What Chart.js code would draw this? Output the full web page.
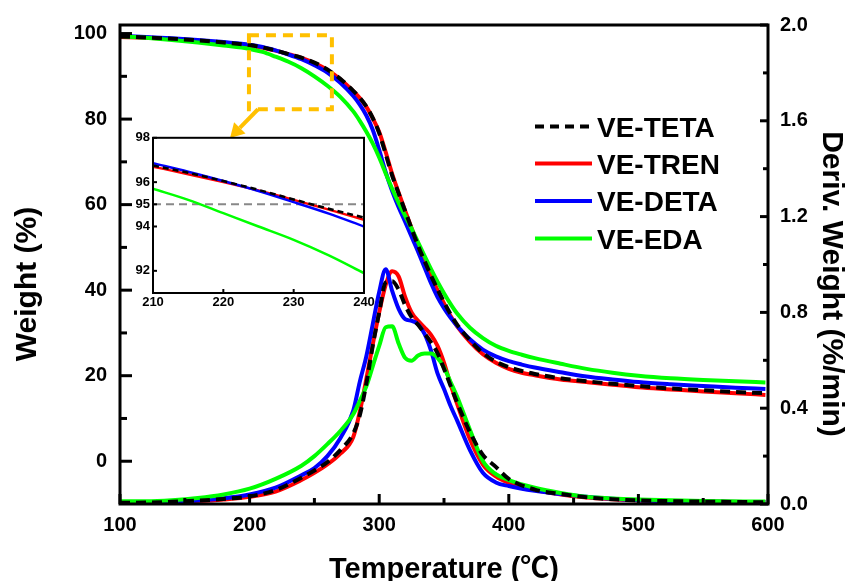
<!DOCTYPE html>
<html>
<head>
<meta charset="utf-8">
<title>VE TGA / DTG</title>
<script src="https://cdn.jsdelivr.net/npm/chart.js@4.4.1/dist/chart.umd.min.js"></script>
<style>
  body { margin: 0; background: #fff; }
  #wrap { position: relative; width: 851px; height: 581px; background: #fff; }
  #mainChart { position: absolute; left: 0; top: 0; }
  #insetChart { position: absolute; left: 113px; top: 127px; }
</style>
</head>
<body>
<div id="wrap">
  <canvas id="mainChart" width="851" height="581"></canvas>
  <canvas id="insetChart" width="264" height="190"></canvas>
</div>
<script>
// series
const seriesNames = ['VE-TETA', 'VE-TREN', 'VE-DETA', 'VE-EDA'];
const seriesColors = ['#000000', '#ff0000', '#0000ff', '#00ff00'];

// weight curves (left axis)
const tgaTemp = [100, 120, 140, 160, 180, 200, 210, 220, 230, 240, 250, 260, 270, 280, 285, 290, 295, 300, 305, 310, 315, 320, 325, 330, 335, 340, 345, 350, 355, 360, 370, 380, 390, 400, 410, 420, 440, 460, 480, 500, 525, 550, 575, 598];
const tgaTeta = [99.3, 99.1, 98.8, 98.4, 97.9, 97.3, 96.75, 96.05, 95.2, 94.35, 93.2, 91.6, 89.4, 86.6, 85.0, 83.0, 80.3, 76.7, 71.8, 66.8, 62.6, 58.5, 54.4, 50.4, 46.8, 43.4, 40.2, 37.2, 34.4, 32.0, 28.3, 25.3, 23.3, 22.0, 21.1, 20.4, 19.4, 18.7, 18.1, 17.6, 17.0, 16.6, 16.2, 15.9];
const tgaTren = [99.2, 99.0, 98.7, 98.3, 97.8, 97.2, 96.7, 96.0, 95.2, 94.3, 93.1, 91.5, 89.3, 86.5, 84.9, 82.9, 80.2, 77.0, 72.3, 67.2, 62.8, 58.6, 54.5, 50.5, 46.8, 43.3, 40.0, 36.9, 34.0, 31.6, 27.9, 25.0, 23.0, 21.6, 20.7, 20.1, 19.1, 18.5, 17.9, 17.3, 16.8, 16.3, 15.9, 15.5];
const tgaDeta = [99.5, 99.2, 98.9, 98.5, 98.0, 97.4, 96.85, 96.05, 95.1, 94.0, 92.6, 90.9, 88.5, 85.4, 83.4, 80.9, 77.5, 72.8, 67.6, 63.2, 59.4, 56.0, 52.5, 49.0, 45.3, 41.6, 38.4, 35.8, 33.6, 31.7, 28.5, 26.1, 24.5, 23.4, 22.6, 21.9, 20.8, 19.8, 19.1, 18.5, 18.0, 17.6, 17.2, 16.9];
const tgaEda = [99.4, 99.0, 98.5, 97.9, 97.2, 96.4, 95.7, 94.6, 93.4, 91.9, 90.0, 87.8, 85.2, 81.8, 79.6, 77.1, 74.3, 71.0, 67.3, 63.7, 60.4, 57.4, 54.4, 51.2, 48.0, 44.9, 42.0, 39.3, 36.8, 34.6, 31.2, 28.8, 27.0, 25.8, 24.9, 24.1, 22.8, 21.6, 20.7, 20.0, 19.4, 19.0, 18.7, 18.4];

// derivative curves (right axis)
const dtgTemp = [100, 120, 140, 160, 180, 200, 220, 240, 250, 260, 270, 280, 285, 290, 295, 300, 305, 310, 315, 320, 325, 330, 335, 340, 345, 350, 355, 360, 370, 380, 390, 400, 420, 440, 460, 480, 500, 550, 598];
const dtgTeta = [0.005, 0.006, 0.009, 0.014, 0.021, 0.032, 0.058, 0.11, 0.14, 0.175, 0.225, 0.295, 0.37, 0.5, 0.66, 0.8, 0.925, 0.93, 0.895, 0.83, 0.78, 0.748, 0.712, 0.675, 0.63, 0.565, 0.495, 0.425, 0.3, 0.205, 0.155, 0.105, 0.06, 0.042, 0.028, 0.02, 0.015, 0.01, 0.007];
const dtgTren = [0.004, 0.005, 0.008, 0.012, 0.019, 0.03, 0.052, 0.1, 0.13, 0.165, 0.21, 0.28, 0.385, 0.52, 0.665, 0.8, 0.915, 0.972, 0.95, 0.865, 0.8, 0.765, 0.737, 0.706, 0.66, 0.59, 0.5, 0.42, 0.27, 0.165, 0.115, 0.088, 0.058, 0.04, 0.027, 0.02, 0.015, 0.01, 0.007];
const dtgDeta = [0.005, 0.006, 0.009, 0.015, 0.024, 0.04, 0.068, 0.12, 0.15, 0.2, 0.275, 0.39, 0.51, 0.615, 0.75, 0.885, 0.98, 0.89, 0.815, 0.772, 0.765, 0.75, 0.71, 0.64, 0.545, 0.48, 0.41, 0.35, 0.225, 0.13, 0.09, 0.075, 0.055, 0.042, 0.03, 0.022, 0.016, 0.01, 0.008];
const dtgEda = [0.012, 0.012, 0.016, 0.025, 0.04, 0.064, 0.105, 0.16, 0.2, 0.25, 0.305, 0.375, 0.43, 0.49, 0.575, 0.66, 0.738, 0.742, 0.67, 0.61, 0.598, 0.62, 0.628, 0.628, 0.61, 0.57, 0.51, 0.45, 0.31, 0.18, 0.125, 0.1, 0.068, 0.046, 0.03, 0.023, 0.019, 0.013, 0.01];

// inset (210-240 C zoom)
const insetTemp = [210, 215, 220, 225, 230, 235, 240];
const insetTeta = [96.75, 96.42, 96.05, 95.65, 95.22, 94.8, 94.4];
const insetTren = [96.7, 96.36, 96.0, 95.62, 95.2, 94.76, 94.3];
const insetDeta = [96.85, 96.47, 96.05, 95.6, 95.1, 94.58, 94.0];
const insetEda = [95.7, 95.2, 94.6, 94.0, 93.4, 92.7, 91.9];
const insetRefTemp = [210, 240];
const insetRefWeight = [95, 95];

// ticks
const tempTicks = [100, 200, 300, 400, 500, 600];
const tempMinor = [150, 250, 350, 450, 550];
const weightTicks = [0, 20, 40, 60, 80, 100];
const weightMinor = [10, 30, 50, 70, 90];
const derivTicks = [0, 0.4, 0.8, 1.2, 1.6, 2.0];
const derivMinor = [0.2, 0.6, 1.0, 1.4, 1.8];
const insetTempTicks = [210, 220, 230, 240];
const insetWeightTicks = [92, 94, 95, 96, 98];

// zoomed region marker (data units of the main chart)
const zoomBoxTemp = [199.5, 263.5];
const zoomBoxWeight = [82.3, 99.6];
const arrowFrom = { x: 206.5, y: 82.3 };
const arrowTo = { x: 184.9, y: 75.6 };

const FONT = "'Liberation Sans', Arial, 'Noto Sans CJK SC', sans-serif";
const ORANGE = '#ffc000';
// black drawn on top, then green, blue, red
const layer = [0, 3, 2, 1];

function pts(xs, ys) {
    return xs.map((x, i) => ({ x: x, y: ys[i] }));
}

function lineSet(i, xs, ys, axis, width, dash) {
    return {
        label: seriesNames[i],
        data: pts(xs, ys),
        yAxisID: axis,
        borderColor: seriesColors[i],
        backgroundColor: seriesColors[i],
        borderWidth: width,
        borderDash: i === 0 ? dash : [],
        pointRadius: 0,
        fill: false,
        cubicInterpolationMode: 'monotone',
        order: layer[i]
    };
}

function fixedTicks(values) {
    return function(scale) {
        scale.ticks = values.map(v => ({ value: v }));
    };
}

function tickFont(size) {
    return { family: FONT, size: size, weight: 'bold' };
}

function strokeTicks(ctx, scale, values, len, side, a) {
    values.forEach(v => {
        const p = scale.getPixelForValue(v);
        ctx.beginPath();
        if (side === 'bottom') {
            ctx.moveTo(p, a.bottom);
            ctx.lineTo(p, a.bottom - len);
        } else if (side === 'left') {
            ctx.moveTo(a.left, p);
            ctx.lineTo(a.left + len, p);
        } else {
            ctx.moveTo(a.right, p);
            ctx.lineTo(a.right - len, p);
        }
        ctx.stroke();
    });
}

const tgaData = [tgaTeta, tgaTren, tgaDeta, tgaEda];
const dtgData = [dtgTeta, dtgTren, dtgDeta, dtgEda];
const insetData = [insetTeta, insetTren, insetDeta, insetEda];

const mainSets = [];
tgaData.forEach((ys, i) => mainSets.push(lineSet(i, tgaTemp, ys, 'y', 4, [10, 6])));
dtgData.forEach((ys, i) => mainSets.push(lineSet(i, dtgTemp, ys, 'y1', 4, [10, 6])));

// frame, ticks, zoom marker, titles and legend of the main plot
const mainDecor = {
    id: 'mainDecor',
    afterDatasetsDraw(chart) {
        const ctx = chart.ctx;
        const a = chart.chartArea;
        const sx = chart.scales.x, sy = chart.scales.y, sy1 = chart.scales.y1;
        ctx.save();

        // dashed box round the zoomed region
        const bx0 = sx.getPixelForValue(zoomBoxTemp[0]), bx1 = sx.getPixelForValue(zoomBoxTemp[1]);
        const by0 = sy.getPixelForValue(zoomBoxWeight[1]), by1 = sy.getPixelForValue(zoomBoxWeight[0]);
        ctx.strokeStyle = ORANGE;
        ctx.lineWidth = 4;
        ctx.setLineDash([10, 7]);
        ctx.strokeRect(bx0, by0, bx1 - bx0, by1 - by0);
        ctx.setLineDash([]);

        // arrow to the inset
        const ax0 = sx.getPixelForValue(arrowFrom.x), ay0 = sy.getPixelForValue(arrowFrom.y);
        const ax1 = sx.getPixelForValue(arrowTo.x), ay1 = sy.getPixelForValue(arrowTo.y);
        const ang = Math.atan2(ay1 - ay0, ax1 - ax0);
        const headLen = 14, headHalf = 8;
        const bxh = ax1 - headLen * Math.cos(ang), byh = ay1 - headLen * Math.sin(ang);
        ctx.beginPath();
        ctx.moveTo(ax0, ay0);
        ctx.lineTo(bxh, byh);
        ctx.stroke();
        ctx.fillStyle = ORANGE;
        ctx.beginPath();
        ctx.moveTo(ax1, ay1);
        ctx.lineTo(bxh + headHalf * Math.sin(ang), byh - headHalf * Math.cos(ang));
        ctx.lineTo(bxh - headHalf * Math.sin(ang), byh + headHalf * Math.cos(ang));
        ctx.closePath();
        ctx.fill();

        // frame
        ctx.strokeStyle = '#000';
        ctx.lineWidth = 3;
        ctx.strokeRect(a.left, a.top, a.right - a.left, a.bottom - a.top);

        // inward tick marks
        strokeTicks(ctx, sx, tempTicks, 10, 'bottom', a);
        strokeTicks(ctx, sx, tempMinor, 6, 'bottom', a);
        strokeTicks(ctx, sy, weightTicks, 12, 'left', a);
        strokeTicks(ctx, sy, weightMinor, 7, 'left', a);
        strokeTicks(ctx, sy1, derivTicks, 8, 'right', a);
        strokeTicks(ctx, sy1, derivMinor, 5, 'right', a);

        // axis titles
        ctx.fillStyle = '#000';
        ctx.font = 'bold 30px ' + FONT;
        ctx.textAlign = 'center';
        ctx.textBaseline = 'middle';
        ctx.save();
        ctx.translate(28, 284);
        ctx.rotate(-Math.PI / 2);
        ctx.fillText('Weight (%)', 0, 0);
        ctx.restore();
        ctx.save();
        ctx.translate(831, 284);
        ctx.rotate(Math.PI / 2);
        ctx.fillText('Deriv. Weight (%/min)', 0, 0);
        ctx.restore();
        ctx.font = 'bold 29px ' + FONT;
        ctx.textBaseline = 'alphabetic';
        ctx.fillText('Temperature (\u2103)', (a.left + a.right) / 2, 578);

        // legend
        const rows = [126.5, 163.5, 201, 238.5];
        ctx.font = 'bold 28px ' + FONT;
        ctx.textAlign = 'left';
        seriesNames.forEach((name, i) => {
            ctx.strokeStyle = seriesColors[i];
            ctx.lineWidth = 4;
            ctx.setLineDash(i === 0 ? [9, 6] : []);
            ctx.beginPath();
            ctx.moveTo(535, rows[i]);
            ctx.lineTo(592, rows[i]);
            ctx.stroke();
            ctx.setLineDash([]);
            ctx.fillStyle = '#000';
            ctx.fillText(name, 597, rows[i] + 10);
        });

        ctx.restore();
    }
};

new Chart(document.getElementById('mainChart'), {
    type: 'line',
    data: { datasets: mainSets },
    options: {
        responsive: false,
        animation: false,
        events: [],
        layout: { padding: { top: 24, left: 0, right: 0, bottom: 0 } },
        plugins: { legend: { display: false }, tooltip: { enabled: false } },
        scales: {
            x: {
                type: 'linear', min: 100, max: 600,
                afterBuildTicks: fixedTicks(tempTicks),
                afterFit: function(s) { s.height = 77; },
                grid: { display: false, drawTicks: false },
                border: { display: false },
                ticks: { padding: 9, color: '#000', maxRotation: 0, font: tickFont(20) }
            },
            y: {
                type: 'linear', position: 'left', min: -10, max: 102,
                afterBuildTicks: fixedTicks(weightTicks),
                afterFit: function(s) { s.width = 120; },
                grid: { display: false, drawTicks: false },
                border: { display: false },
                ticks: { padding: 13, color: '#000', font: tickFont(20) }
            },
            y1: {
                type: 'linear', position: 'right', min: 0, max: 2,
                afterBuildTicks: fixedTicks(derivTicks),
                afterFit: function(s) { s.width = 83; },
                grid: { display: false, drawTicks: false },
                border: { display: false },
                ticks: {
                    padding: 12, color: '#000', font: tickFont(20),
                    callback: function(v) { return v.toFixed(1); }
                }
            }
        }
    },
    plugins: [mainDecor]
});

// inset chart
const insetSets = insetData.map((ys, i) => lineSet(i, insetTemp, ys, 'y', 2.5, [6, 4]));
insetSets.push({
    label: '95%',
    data: pts(insetRefTemp, insetRefWeight),
    yAxisID: 'y',
    borderColor: '#888888',
    borderWidth: 2,
    borderDash: [8, 5],
    pointRadius: 0,
    fill: false,
    order: 10
});

const insetDecor = {
    id: 'insetDecor',
    beforeDatasetsDraw(chart) {
        const ctx = chart.ctx, a = chart.chartArea;
        ctx.save();
        ctx.fillStyle = '#fff';
        ctx.fillRect(a.left, a.top, a.right - a.left, a.bottom - a.top);
        ctx.restore();
    },
    afterDatasetsDraw(chart) {
        const ctx = chart.ctx, a = chart.chartArea;
        ctx.save();
        ctx.strokeStyle = '#000';
        ctx.lineWidth = 2;
        ctx.strokeRect(a.left, a.top, a.right - a.left, a.bottom - a.top);
        strokeTicks(ctx, chart.scales.x, insetTempTicks, 4, 'bottom', a);
        strokeTicks(ctx, chart.scales.y, insetWeightTicks, 4, 'left', a);
        ctx.restore();
    }
};

new Chart(document.getElementById('insetChart'), {
    type: 'line',
    data: { datasets: insetSets },
    options: {
        responsive: false,
        animation: false,
        events: [],
        layout: { padding: { top: 10, left: 0, right: 13, bottom: 0 } },
        plugins: { legend: { display: false }, tooltip: { enabled: false } },
        scales: {
            x: {
                type: 'linear', min: 210, max: 240,
                afterBuildTicks: fixedTicks(insetTempTicks),
                afterFit: function(s) { s.height = 24; },
                grid: { display: false, drawTicks: false },
                border: { display: false },
                ticks: { padding: 2, color: '#000', maxRotation: 0, font: tickFont(13) }
            },
            y: {
                type: 'linear', min: 91, max: 98,
                afterBuildTicks: fixedTicks(insetWeightTicks),
                afterFit: function(s) { s.width = 40; },
                grid: { display: false, drawTicks: false },
                border: { display: false },
                ticks: { padding: 3, color: '#000', font: tickFont(13) }
            }
        }
    },
    plugins: [insetDecor]
});
</script>
</body>
</html>
